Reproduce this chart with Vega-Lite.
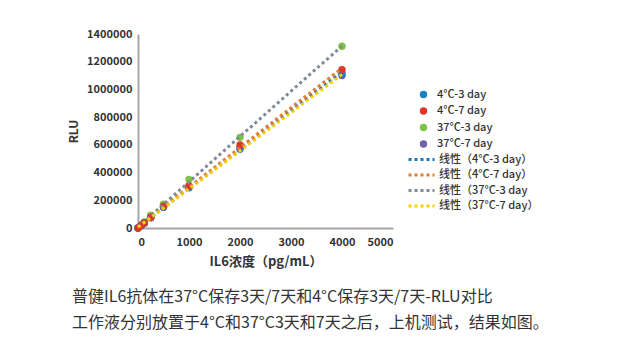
{
  "$schema": "https://vega.github.io/schema/vega-lite/v6.json",
  "width": 255,
  "height": 194,
  "autosize": {"type": "none"},
  "padding": {"left": 138, "top": 34, "right": 227, "bottom": 132},
  "background": "white",
  "config": {
    "font": "Noto Sans CJK SC",
    "view": {"stroke": null},
    "axis": {
      "domainColor": "#a6a6a6",
      "domainWidth": 2,
      "ticks": false,
      "grid": false,
      "labelOverlap": false,
      "labelFont": "Noto Sans CJK SC",
      "labelFontSize": 11,
      "labelFontWeight": "bold",
      "labelColor": "#333333",
      "titleFont": "Noto Sans CJK SC",
      "titleColor": "#333333",
      "titleFontWeight": "bold"
    },
    "legend": {
      "labelFont": "Noto Sans CJK SC",
      "labelFontSize": 11,
      "labelFontWeight": 500,
      "labelColor": "#333333",
      "padding": 0
    }
  },
  "title": {
    "text": ["普健IL6抗体在37°C保存3天/7天和4°C保存3天/7天-RLU对比", "工作液分别放置于4°C和37°C3天和7天之后，上机测试，结果如图。"],
    "orient": "bottom",
    "anchor": "start",
    "frame": "group",
    "dx": -66,
    "offset": 21,
    "fontSize": 16,
    "fontWeight": "normal",
    "lineHeight": 26,
    "color": "#333333",
    "font": "Noto Sans CJK SC"
  },
  "data": {
    "values": [
      {"series": "4°C-3 day", "fit": "线性（4°C-3 day）", "conc": 0, "rlu": 0},
      {"series": "4°C-3 day", "fit": "线性（4°C-3 day）", "conc": 62.5, "rlu": 18000},
      {"series": "4°C-3 day", "fit": "线性（4°C-3 day）", "conc": 125, "rlu": 36000},
      {"series": "4°C-3 day", "fit": "线性（4°C-3 day）", "conc": 250, "rlu": 76000},
      {"series": "4°C-3 day", "fit": "线性（4°C-3 day）", "conc": 500, "rlu": 152000},
      {"series": "4°C-3 day", "fit": "线性（4°C-3 day）", "conc": 1000, "rlu": 295000},
      {"series": "4°C-3 day", "fit": "线性（4°C-3 day）", "conc": 2000, "rlu": 578000},
      {"series": "4°C-3 day", "fit": "线性（4°C-3 day）", "conc": 4000, "rlu": 1115000},
      {"series": "4°C-7 day", "fit": "线性（4°C-7 day）", "conc": 0, "rlu": 0},
      {"series": "4°C-7 day", "fit": "线性（4°C-7 day）", "conc": 62.5, "rlu": 19000},
      {"series": "4°C-7 day", "fit": "线性（4°C-7 day）", "conc": 125, "rlu": 38000},
      {"series": "4°C-7 day", "fit": "线性（4°C-7 day）", "conc": 250, "rlu": 78000},
      {"series": "4°C-7 day", "fit": "线性（4°C-7 day）", "conc": 500, "rlu": 158000},
      {"series": "4°C-7 day", "fit": "线性（4°C-7 day）", "conc": 1000, "rlu": 305000},
      {"series": "4°C-7 day", "fit": "线性（4°C-7 day）", "conc": 2000, "rlu": 599000},
      {"series": "4°C-7 day", "fit": "线性（4°C-7 day）", "conc": 4000, "rlu": 1142000},
      {"series": "37°C-3 day", "fit": "线性（37°C-3 day", "conc": 0, "rlu": 0},
      {"series": "37°C-3 day", "fit": "线性（37°C-3 day", "conc": 62.5, "rlu": 22000},
      {"series": "37°C-3 day", "fit": "线性（37°C-3 day", "conc": 125, "rlu": 44000},
      {"series": "37°C-3 day", "fit": "线性（37°C-3 day", "conc": 250, "rlu": 92000},
      {"series": "37°C-3 day", "fit": "线性（37°C-3 day", "conc": 500, "rlu": 171000},
      {"series": "37°C-3 day", "fit": "线性（37°C-3 day", "conc": 1000, "rlu": 351000},
      {"series": "37°C-3 day", "fit": "线性（37°C-3 day", "conc": 2000, "rlu": 654000},
      {"series": "37°C-3 day", "fit": "线性（37°C-3 day", "conc": 4000, "rlu": 1312000},
      {"series": "37°C-7 day", "fit": "线性（37°C-7 day）", "conc": 0, "rlu": 0},
      {"series": "37°C-7 day", "fit": "线性（37°C-7 day）", "conc": 62.5, "rlu": 17000},
      {"series": "37°C-7 day", "fit": "线性（37°C-7 day）", "conc": 125, "rlu": 35000},
      {"series": "37°C-7 day", "fit": "线性（37°C-7 day）", "conc": 250, "rlu": 74000},
      {"series": "37°C-7 day", "fit": "线性（37°C-7 day）", "conc": 500, "rlu": 150000},
      {"series": "37°C-7 day", "fit": "线性（37°C-7 day）", "conc": 1000, "rlu": 291000},
      {"series": "37°C-7 day", "fit": "线性（37°C-7 day）", "conc": 2000, "rlu": 568000},
      {"series": "37°C-7 day", "fit": "线性（37°C-7 day）", "conc": 4000, "rlu": 1100000}
    ]
  },
  "encoding": {
    "x": {
      "field": "conc", "type": "quantitative",
      "scale": {"domain": [0, 5000], "nice": false},
      "axis": {"values": [0, 1000, 2000, 3000, 4000, 5000], "format": "d", "labelOverlap": false, "labelPadding": 8, "title": "IL6浓度（pg/mL）", "titleFontSize": 13, "titlePadding": 8}
    },
    "y": {
      "field": "rlu", "type": "quantitative",
      "scale": {"domain": [0, 1400000], "nice": false},
      "axis": {"values": [0, 200000, 400000, 600000, 800000, 1000000, 1200000, 1400000], "format": "d", "labelOverlap": false, "labelPadding": 6, "title": "RLU", "titleFontSize": 12, "titlePadding": 6}
    }
  },
  "layer": [
    {
      "mark": {"type": "point", "filled": true, "opacity": 1, "size": 55},
      "encoding": {
        "color": {
          "field": "series", "type": "nominal",
          "scale": {
            "domain": ["4°C-3 day", "4°C-7 day", "37°C-3 day", "37°C-7 day"],
            "range": ["#1a80c4", "#e0342a", "#7ec443", "#6b64a8"]
          },
          "legend": {"title": null, "orient": "none", "legendX": 280, "legendY": 55, "symbolSize": 55, "symbolType": "circle", "labelOffset": 8, "rowPadding": 4.5}
        },
        "order": {"field": "series", "sort": "ascending"}
      }
    },
    {
      "transform": [
        {"regression": "rlu", "on": "conc", "groupby": ["series", "fit"], "method": "linear", "extent": [0, 4000]}
      ],
      "mark": {"type": "line", "strokeDash": [3, 3], "strokeWidth": 3},
      "encoding": {
        "color": {
          "field": "fit", "type": "nominal",
          "scale": {
            "domain": ["线性（4°C-3 day）", "线性（4°C-7 day）", "线性（37°C-3 day", "线性（37°C-7 day）"],
            "range": ["#2077b4", "#e07b39", "#7f8a96", "#f5d000"]
          },
          "legend": {"title": null, "orient": "none", "legendX": 278, "legendY": 120, "symbolType": "M-4.33,0H4.33", "symbolSize": 36, "symbolDash": [3, 3], "symbolStrokeWidth": 3, "rowPadding": 2.5, "labelOffset": 12}
        }
      }
    }
  ],
  "resolve": {"scale": {"color": "independent"}}
}
